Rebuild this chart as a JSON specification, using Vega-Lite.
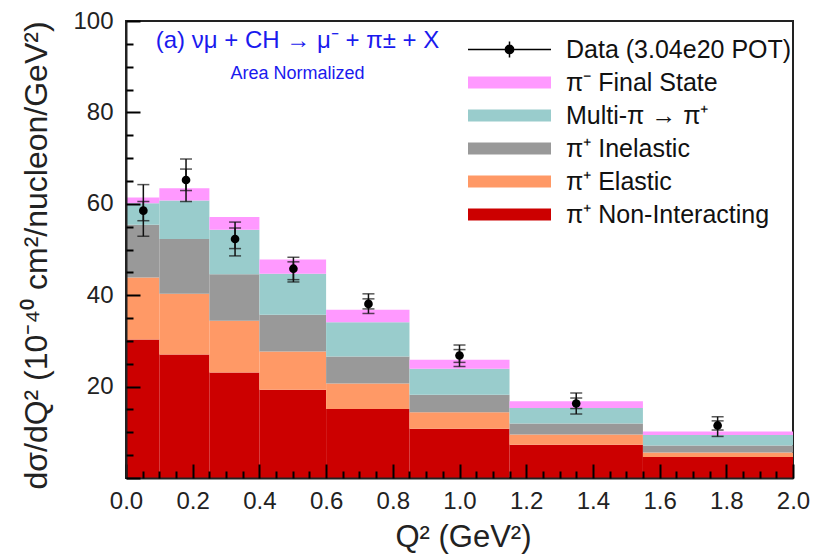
{
  "$schema": "https://vega.github.io/schema/vega-lite/v6.json",
  "width": 667,
  "height": 457,
  "autosize": {"type": "none"},
  "padding": {"left": 126, "top": 21, "right": 34, "bottom": 78},
  "config": {
    "font": "Liberation Sans",
    "view": {"stroke": "#222", "strokeWidth": 2},
    "axis": {
      "grid": false,
      "labelFont": "Liberation Sans",
      "labelFontSize": 24,
      "labelColor": "#222",
      "tickColor": "#000",
      "tickWidth": 2,
      "labelOverlap": false,
      "labelFlush": false,
      "titleFont": "Liberation Sans",
      "titleFontWeight": "normal",
      "titleColor": "#222",
      "zindex": 1
    }
  },
  "title": {
    "text": "(a)  νμ + CH → μ⁻ + π± + X",
    "subtitle": "Area Normalized",
    "color": "#1a1aee",
    "subtitleColor": "#1a1aee",
    "font": "Liberation Sans",
    "subtitleFont": "Liberation Sans",
    "fontWeight": "normal",
    "fontSize": 24,
    "subtitleFontSize": 18,
    "anchor": "middle",
    "align": "center",
    "dx": -162,
    "dy": 78,
    "subtitlePadding": 12
  },
  "resolve": {"axis": {"x": "independent", "y": "independent"}},
  "datasets": {
    "mc": [
      {"lo": 0, "hi": 0.1, "c": "π⁺ Non-Interacting", "y0": 0, "y1": 30.3},
      {"lo": 0, "hi": 0.1, "c": "π⁺ Elastic", "y0": 30.3, "y1": 43.9},
      {"lo": 0, "hi": 0.1, "c": "π⁺ Inelastic", "y0": 43.9, "y1": 55.4},
      {"lo": 0, "hi": 0.1, "c": "Multi-π → π⁺", "y0": 55.4, "y1": 60.1},
      {"lo": 0, "hi": 0.1, "c": "π⁻ Final State", "y0": 60.1, "y1": 61.4},
      {"lo": 0.1, "hi": 0.25, "c": "π⁺ Non-Interacting", "y0": 0, "y1": 27.0},
      {"lo": 0.1, "hi": 0.25, "c": "π⁺ Elastic", "y0": 27.0, "y1": 40.3},
      {"lo": 0.1, "hi": 0.25, "c": "π⁺ Inelastic", "y0": 40.3, "y1": 52.3},
      {"lo": 0.1, "hi": 0.25, "c": "Multi-π → π⁺", "y0": 52.3, "y1": 60.7},
      {"lo": 0.1, "hi": 0.25, "c": "π⁻ Final State", "y0": 60.7, "y1": 63.4},
      {"lo": 0.25, "hi": 0.4, "c": "π⁺ Non-Interacting", "y0": 0, "y1": 23.1},
      {"lo": 0.25, "hi": 0.4, "c": "π⁺ Elastic", "y0": 23.1, "y1": 34.4},
      {"lo": 0.25, "hi": 0.4, "c": "π⁺ Inelastic", "y0": 34.4, "y1": 44.6},
      {"lo": 0.25, "hi": 0.4, "c": "Multi-π → π⁺", "y0": 44.6, "y1": 54.3},
      {"lo": 0.25, "hi": 0.4, "c": "π⁻ Final State", "y0": 54.3, "y1": 57.1},
      {"lo": 0.4, "hi": 0.6, "c": "π⁺ Non-Interacting", "y0": 0, "y1": 19.3},
      {"lo": 0.4, "hi": 0.6, "c": "π⁺ Elastic", "y0": 19.3, "y1": 27.7},
      {"lo": 0.4, "hi": 0.6, "c": "π⁺ Inelastic", "y0": 27.7, "y1": 35.7},
      {"lo": 0.4, "hi": 0.6, "c": "Multi-π → π⁺", "y0": 35.7, "y1": 44.7},
      {"lo": 0.4, "hi": 0.6, "c": "π⁻ Final State", "y0": 44.7, "y1": 47.8},
      {"lo": 0.6, "hi": 0.85, "c": "π⁺ Non-Interacting", "y0": 0, "y1": 15.1},
      {"lo": 0.6, "hi": 0.85, "c": "π⁺ Elastic", "y0": 15.1, "y1": 20.7},
      {"lo": 0.6, "hi": 0.85, "c": "π⁺ Inelastic", "y0": 20.7, "y1": 26.6},
      {"lo": 0.6, "hi": 0.85, "c": "Multi-π → π⁺", "y0": 26.6, "y1": 34.1},
      {"lo": 0.6, "hi": 0.85, "c": "π⁻ Final State", "y0": 34.1, "y1": 36.8},
      {"lo": 0.85, "hi": 1.15, "c": "π⁺ Non-Interacting", "y0": 0, "y1": 10.8},
      {"lo": 0.85, "hi": 1.15, "c": "π⁺ Elastic", "y0": 10.8, "y1": 14.4},
      {"lo": 0.85, "hi": 1.15, "c": "π⁺ Inelastic", "y0": 14.4, "y1": 18.2},
      {"lo": 0.85, "hi": 1.15, "c": "Multi-π → π⁺", "y0": 18.2, "y1": 23.9},
      {"lo": 0.85, "hi": 1.15, "c": "π⁻ Final State", "y0": 23.9, "y1": 25.9},
      {"lo": 1.15, "hi": 1.55, "c": "π⁺ Non-Interacting", "y0": 0, "y1": 7.3},
      {"lo": 1.15, "hi": 1.55, "c": "π⁺ Elastic", "y0": 7.3, "y1": 9.5},
      {"lo": 1.15, "hi": 1.55, "c": "π⁺ Inelastic", "y0": 9.5, "y1": 11.9},
      {"lo": 1.15, "hi": 1.55, "c": "Multi-π → π⁺", "y0": 11.9, "y1": 15.3},
      {"lo": 1.15, "hi": 1.55, "c": "π⁻ Final State", "y0": 15.3, "y1": 16.8},
      {"lo": 1.55, "hi": 2.0, "c": "π⁺ Non-Interacting", "y0": 0, "y1": 4.6},
      {"lo": 1.55, "hi": 2.0, "c": "π⁺ Elastic", "y0": 4.6, "y1": 5.6},
      {"lo": 1.55, "hi": 2.0, "c": "π⁺ Inelastic", "y0": 5.6, "y1": 7.1},
      {"lo": 1.55, "hi": 2.0, "c": "Multi-π → π⁺", "y0": 7.1, "y1": 9.4},
      {"lo": 1.55, "hi": 2.0, "c": "π⁻ Final State", "y0": 9.4, "y1": 10.2}
    ],
    "data": [
      {"q2": 0.052, "v": 58.5, "slo": 56.3, "shi": 60.5, "tlo": 52.9, "thi": 64.2},
      {"q2": 0.18, "v": 65.2, "slo": 62.9, "shi": 67.6, "tlo": 60.5, "thi": 69.8},
      {"q2": 0.327, "v": 52.3, "slo": 50.2, "shi": 54.7, "tlo": 48.6, "thi": 56.0},
      {"q2": 0.502, "v": 45.8, "slo": 43.4, "shi": 47.3, "tlo": 42.9, "thi": 48.3},
      {"q2": 0.727, "v": 38.1, "slo": 37.0, "shi": 39.2, "tlo": 36.0, "thi": 40.3},
      {"q2": 1.0, "v": 26.8, "slo": 25.3, "shi": 28.1, "tlo": 24.4, "thi": 29.1},
      {"q2": 1.35, "v": 16.3, "slo": 15.2, "shi": 17.5, "tlo": 14.0, "thi": 18.6},
      {"q2": 1.774, "v": 11.5, "slo": 10.5, "shi": 12.5, "tlo": 9.1, "thi": 13.4}
    ]
  },
  "layer": [
    {
      "data": {"name": "mc"},
      "mark": {"type": "rect"},
      "encoding": {
        "x": {
          "field": "lo", "type": "quantitative",
          "title": "Q² (GeV²)",
          "scale": {"domain": [0, 2], "nice": false, "zero": false},
          "axis": {
            "zindex": 2,
            "domain": true, "domainColor": "#222", "domainWidth": 2,
            "ticks": false,
            "titleFontSize": 31,
            "titleX": 337, "titleY": 59, "titleAlign": "center", "titleBaseline": "middle", "titleAnchor": null,
            "values": [0,0.2,0.4,0.6,0.8,1,1.2,1.4,1.6,1.8,2],
            "format": ".1f",
            "labelPadding": 11
          }
        },
        "x2": {"field": "hi"},
        "y": {
          "field": "y0", "type": "quantitative",
          "title": "dσ/dQ² (10⁻⁴⁰ cm²/nucleon/GeV²)",
          "scale": {"domain": [0, 100], "nice": false},
          "axis": {
            "zindex": 2,
            "domain": true, "domainColor": "#222", "domainWidth": 2,
            "ticks": false,
            "titleFontSize": 32,
            "titleX": -90, "titleY": 234, "titleAngle": -90, "titleAlign": "center", "titleBaseline": "middle", "titleAnchor": null,
            "values": [20,40,60,80,100],
            "labelPadding": 13
          }
        },
        "y2": {"field": "y1"},
        "color": {
          "field": "c", "type": "nominal",
          "scale": {
            "domain": ["Data (3.04e20 POT)", "π⁻ Final State", "Multi-π → π⁺", "π⁺ Inelastic", "π⁺ Elastic", "π⁺ Non-Interacting"],
            "range": ["#000000", "#FF99FF", "#99CCCC", "#999999", "#FF9966", "#CC0000"]
          },
          "legend": {
            "orient": "none",
            "legendX": 341,
            "legendY": 12,
            "title": null,
            "padding": 0,
            "symbolType": "M-1,-0.145H1V0.145H-1Z",
            "symbolSize": 6889,
            "clipHeight": 33,
            "rowPadding": 0,
            "labelFont": "Liberation Sans",
            "labelFontSize": 25,
            "labelColor": "#111",
            "labelOffset": 14,
            "labelLimit": 400,
            "symbolOpacity": 1,
            "symbolStrokeWidth": 0,
            "encode": {
              "symbols": {
                "update": {
                  "shape": {"signal": "datum.value === 'Data (3.04e20 POT)' ? 'M-1,0H1M0,-0.19V0.19M-0.1,0A0.1,0.1 0 1,0 0.1,0A0.1,0.1 0 1,0 -0.1,0' : 'M-1,-0.145H1V0.145H-1Z'"},
                  "stroke": {"signal": "datum.value === 'Data (3.04e20 POT)' ? '#000' : 'transparent'"},
                  "strokeWidth": {"value": 1.5}
                }
              }
            }
          }
        }
      }
    },
    {
      "data": {"name": "data"},
      "mark": {"type": "errorbar", "ticks": {"size": 12, "thickness": 1.5}, "rule": {"strokeWidth": 1.5}, "color": "#111"},
      "encoding": {
        "x": {
          "field": "q2", "type": "quantitative", "title": null,
          "axis": {"zindex": 2, "orient": "top", "offset": -457, "domain": false, "labels": false, "tickSize": 7, "values": [0.05,0.1,0.15,0.25,0.3,0.35,0.45,0.5,0.55,0.65,0.7,0.75,0.85,0.9,0.95,1.05,1.1,1.15,1.25,1.3,1.35,1.45,1.5,1.55,1.65,1.7,1.75,1.85,1.9,1.95]}
        },
        "y": {
          "field": "tlo", "type": "quantitative", "title": null,
          "axis": {"zindex": 2, "orient": "right", "offset": -667, "domain": false, "labels": false, "tickSize": 7, "values": [5,10,15,25,30,35,45,50,55,65,70,75,85,90,95]}
        },
        "y2": {"field": "thi"}
      }
    },
    {
      "data": {"name": "data"},
      "mark": {"type": "errorbar", "ticks": {"size": 12, "thickness": 1.5}, "rule": {"strokeWidth": 1.5}, "color": "#111"},
      "encoding": {
        "x": {"field": "q2", "type": "quantitative", "axis": null},
        "y": {"field": "slo", "type": "quantitative", "axis": null},
        "y2": {"field": "shi"}
      }
    },
    {
      "data": {"name": "data"},
      "mark": {"type": "point", "filled": true, "size": 75, "color": "#000", "opacity": 1},
      "encoding": {
        "x": {
          "field": "q2", "type": "quantitative", "title": null,
          "axis": {"zindex": 2, "orient": "top", "offset": -457, "domain": false, "labels": false, "tickSize": 14, "values": [0,0.2,0.4,0.6,0.8,1,1.2,1.4,1.6,1.8,2]}
        },
        "y": {
          "field": "v", "type": "quantitative", "title": null,
          "axis": {"zindex": 2, "orient": "right", "offset": -667, "domain": false, "labels": false, "tickSize": 14, "values": [0,20,40,60,80,100]}
        }
      }
    }
  ]
}
